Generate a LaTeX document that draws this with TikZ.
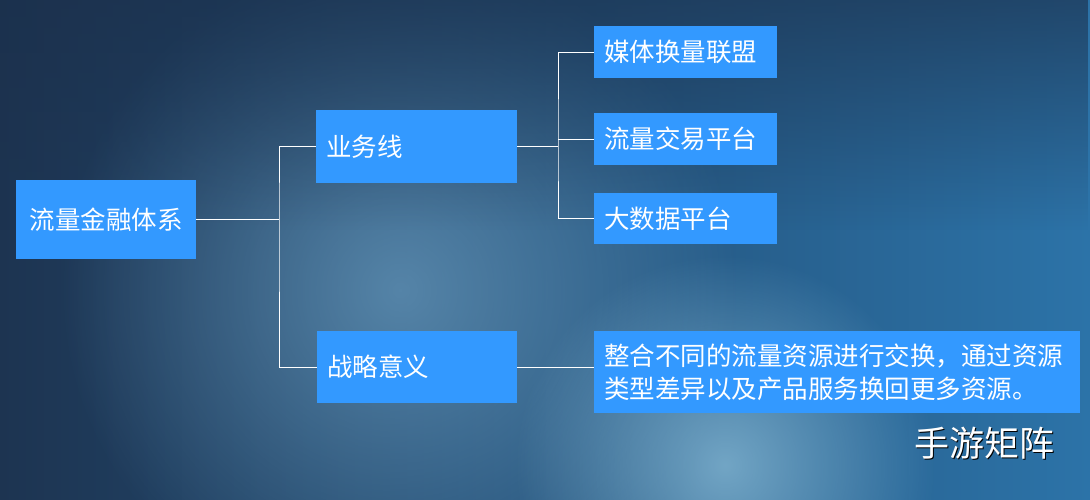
\documentclass[tikz,border=0pt]{standalone}
\usepackage{fontspec}
\usepackage{tikz}
\usetikzlibrary{positioning,calc,fadings}
\newfontfamily\cjk{Noto Sans CJK SC}
\definecolor{bgdark}{HTML}{1D3451}
\definecolor{bgblue}{HTML}{2C73A8}
\definecolor{haze}{HTML}{6B9DC0}
\definecolor{glow}{HTML}{92C4DE}
\definecolor{topdark}{HTML}{1B304C}
\definecolor{boxblue}{HTML}{3399FF}
\tikzfading[name=softglow, inner color=transparent!30, outer color=transparent!100]
\tikzfading[name=topshade, top color=transparent!35, bottom color=transparent!100]
\tikzset{
  x=1pt,y=-1pt,
  link/.style={draw=white,line width=1pt},
  box/.style={fill=boxblue,anchor=north west,inner sep=0pt,text=white,
    font=\cjk\fontsize{25.5}{33}\selectfont},
  leftbox/.style={box,align=left,text width=#1-20pt,minimum width=#1,inner xsep=10pt},
}

\begin{document}
\begin{tikzpicture}
  % background
  \useasboundingbox (0,0) rectangle (1090,500);
  \shade[left color=bgdark,right color=bgblue] (0,0) rectangle (1090,500);
  \fill[haze,path fading=softglow] (400,290) circle (340);
  \fill[topdark,path fading=topshade] (0,0) rectangle (1090,230);
  \fill[glow,path fading=softglow] (725,465) circle (210);

  \node[box,align=center,minimum width=180pt,minimum height=79pt] (root) at (16,180) {流量金融体系};
  \node[leftbox=201pt,minimum height=73pt] (biz) at (316,110) {业务线};
  \node[leftbox=200pt,minimum height=72pt] (mean) at (317,331) {战略意义};
  \node[leftbox=183pt,minimum height=52pt] (media) at (594,26) {媒体换量联盟};
  \node[leftbox=183pt,minimum height=52pt] (trade) at (594,113) {流量交易平台};
  \node[leftbox=183pt,minimum height=51pt] (data) at (594,193) {大数据平台};
  \node[leftbox=486pt,minimum height=82pt] (desc) at (594,331) {整合不同的流量资源进行交换，通过资源\\类型差异以及产品服务换回更多资源。};
  \node[font=\cjk\fontsize{35}{35}\selectfont,text=black] at (985.5,444.5) {手游矩阵};
  \node[font=\cjk\fontsize{35}{35}\selectfont,text=white] (brand) at (984,443) {手游矩阵};

  \coordinate (j1) at (279,218);
  \coordinate (j2) at (558,145);
  \draw[link] (root.east) -- (root.east -| j1);
  \draw[link] (biz.west) -| (j1) |- (mean.west);
  \draw[link] (biz.east) -- (biz.east -| j2);
  \draw[link] (media.west) -| (j2) |- (data.west);
  \draw[link] (trade.west) -- (trade.west -| j2);
  \draw[link] (mean.east) -- (desc.west |- mean.east);
\end{tikzpicture}
\end{document}
